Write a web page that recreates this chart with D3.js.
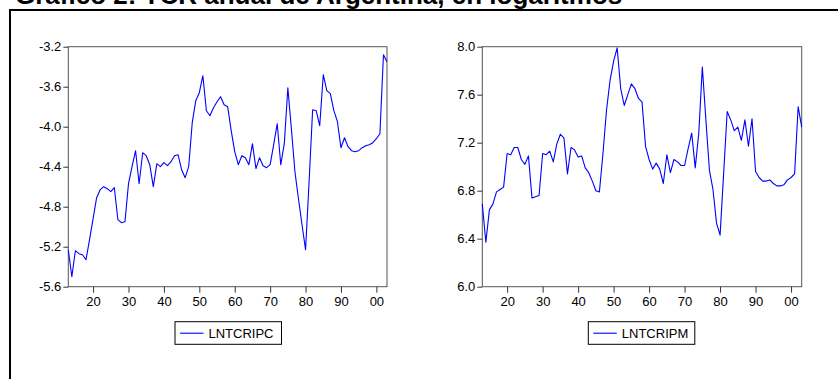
<!DOCTYPE html>
<html lang="es">
<head>
<meta charset="utf-8">
<title>TCR anual de Argentina</title>
<script src="https://cdn.jsdelivr.net/npm/d3@7"></script>
<style>
  body { margin: 0; background: #fff; }
  text { font-family: "Liberation Sans", Arial, sans-serif; }
  .axis text { font-size: 13px; fill: #000; }
  .axis line { stroke: #333; }
  .axis path { display: none; }
</style>
</head>
<body>
<script>
// years 1913 - 2003
const years = d3.range(1913, 2004);

// log real exchange rate, CPI deflated
const lntcripc = [
  -5.23, -5.50, -5.24, -5.27, -5.28, -5.33, -5.13, -4.92, -4.71, -4.63,
  -4.60, -4.62, -4.65, -4.61, -4.93, -4.96, -4.95, -4.57, -4.40, -4.24,
  -4.57, -4.26, -4.29, -4.38, -4.60, -4.37, -4.40, -4.36, -4.39, -4.35,
  -4.29, -4.28, -4.43, -4.51, -4.40, -3.96, -3.74, -3.66, -3.49, -3.84,
  -3.89, -3.81, -3.75, -3.70, -3.78, -3.80, -4.04, -4.25, -4.38, -4.29,
  -4.31, -4.38, -4.17, -4.42, -4.31, -4.39, -4.41, -4.38, -4.18, -3.97,
  -4.38, -4.17, -3.61, -4.02, -4.45, -4.72, -4.98, -5.23, -4.55, -3.83,
  -3.84, -3.99, -3.48, -3.64, -3.67, -3.84, -3.95, -4.21, -4.11, -4.20,
  -4.24, -4.25, -4.24, -4.21, -4.19, -4.18, -4.16, -4.12, -4.07, -3.28,
  -3.35
];

// log real exchange rate, WPI deflated
const lntcripm = [
  6.69, 6.37, 6.64, 6.69, 6.79, 6.81, 6.83, 7.11, 7.10, 7.16,
  7.16, 7.06, 7.02, 7.09, 6.74, 6.75, 6.76, 7.11, 7.10, 7.13,
  7.04, 7.19, 7.27, 7.24, 6.94, 7.16, 7.14, 7.08, 7.09, 6.99,
  6.95, 6.88, 6.80, 6.79, 7.11, 7.47, 7.72, 7.88, 7.99, 7.65,
  7.51, 7.60, 7.69, 7.65, 7.57, 7.54, 7.17, 7.06, 6.98, 7.03,
  6.98, 6.86, 7.10, 6.95, 7.06, 7.04, 7.01, 7.01, 7.15, 7.28,
  6.99, 7.28, 7.83, 7.39, 6.97, 6.81, 6.53, 6.43, 6.94, 7.46,
  7.39, 7.30, 7.33, 7.22, 7.39, 7.17, 7.40, 6.96, 6.91, 6.88,
  6.88, 6.89, 6.86, 6.84, 6.84, 6.85, 6.89, 6.91, 6.94, 7.50,
  7.33
];

const xTicks = [1920, 1930, 1940, 1950, 1960, 1970, 1980, 1990, 2000];
const leftTicks = [-5.6, -5.2, -4.8, -4.4, -4.0, -3.6, -3.2];
const rightTicks = [6.0, 6.4, 6.8, 7.2, 7.6, 8.0];

const width = 838, height = 379;

const svg = d3.select("body").append("svg")
    .attr("width", width)
    .attr("height", height);

// title, mostly cut off at the top of the picture
svg.append("text")
    .attr("x", 15)
    .attr("y", 3.5)
    .style("font-size", "26px")
    .style("font-weight", "bold")
    .text("Gráfico 2: TCR anual de Argentina, en logaritmos");

// outer frame
svg.append("rect")
    .attr("x", 10)
    .attr("y", 10)
    .attr("width", 900)
    .attr("height", 500)
    .attr("fill", "none")
    .attr("stroke", "#000")
    .attr("stroke-width", 2);

// plain hyphen instead of unicode minus
const fmt = function(d) { return d3.format(".1f")(d).replace("\u2212", "-"); };

function drawPanel(left, right, values, ticks, name, legendX) {
  const top = 46.7, bottom = 286.7;

  const x = d3.scaleLinear()
      .domain([1913, 2003])
      .range([left, right]);

  const y = d3.scaleLinear()
      .domain([d3.min(ticks), d3.max(ticks)])
      .range([bottom, top]);

  const g = svg.append("g");

  g.append("rect")
      .attr("x", x.range()[0])
      .attr("y", top)
      .attr("width", right - left)
      .attr("height", bottom - top)
      .attr("fill", "none")
      .attr("stroke", "#555")
      .attr("stroke-width", 1);

  g.append("g")
      .attr("class", "axis")
      .attr("transform", "translate(0," + bottom + ")")
      .call(d3.axisBottom(x)
          .tickValues(xTicks)
          .tickSize(6)
          .tickPadding(4)
          .tickFormat(function(d) { return String(d % 100).padStart(2, "0"); }));

  g.append("g")
      .attr("class", "axis")
      .attr("transform", "translate(" + left + ",0)")
      .call(d3.axisLeft(y)
          .tickValues(ticks)
          .tickSize(5)
          .tickPadding(2)
          .tickFormat(fmt));

  const line = d3.line()
      .x(function(d, i) { return x(years[i]); })
      .y(function(d) { return y(d); });

  g.append("path")
      .datum(values)
      .attr("d", line)
      .attr("fill", "none")
      .attr("stroke", "#0000ff")
      .attr("stroke-width", 1.1)
      .attr("stroke-linejoin", "round");

  // legend
  const lg = g.append("g").attr("transform", "translate(" + legendX + ",321.7)");
  lg.append("rect")
      .attr("width", 106.5)
      .attr("height", 22.6)
      .attr("fill", "#fff")
      .attr("stroke", "#000")
      .attr("stroke-width", 1);
  lg.append("line")
      .attr("x1", 5).attr("x2", 28.5)
      .attr("y1", 11.5).attr("y2", 11.5)
      .attr("stroke", "#0000ff")
      .attr("stroke-width", 1.1);
  lg.append("text")
      .attr("x", 33.5)
      .attr("y", 16)
      .style("font-size", "13px")
      .text(name);
}

drawPanel(68.3, 387, lntcripc, leftTicks, "LNTCRIPC", 175);
drawPanel(482.3, 801.7, lntcripm, rightTicks, "LNTCRIPM", 588.3);
</script>
</body>
</html>
